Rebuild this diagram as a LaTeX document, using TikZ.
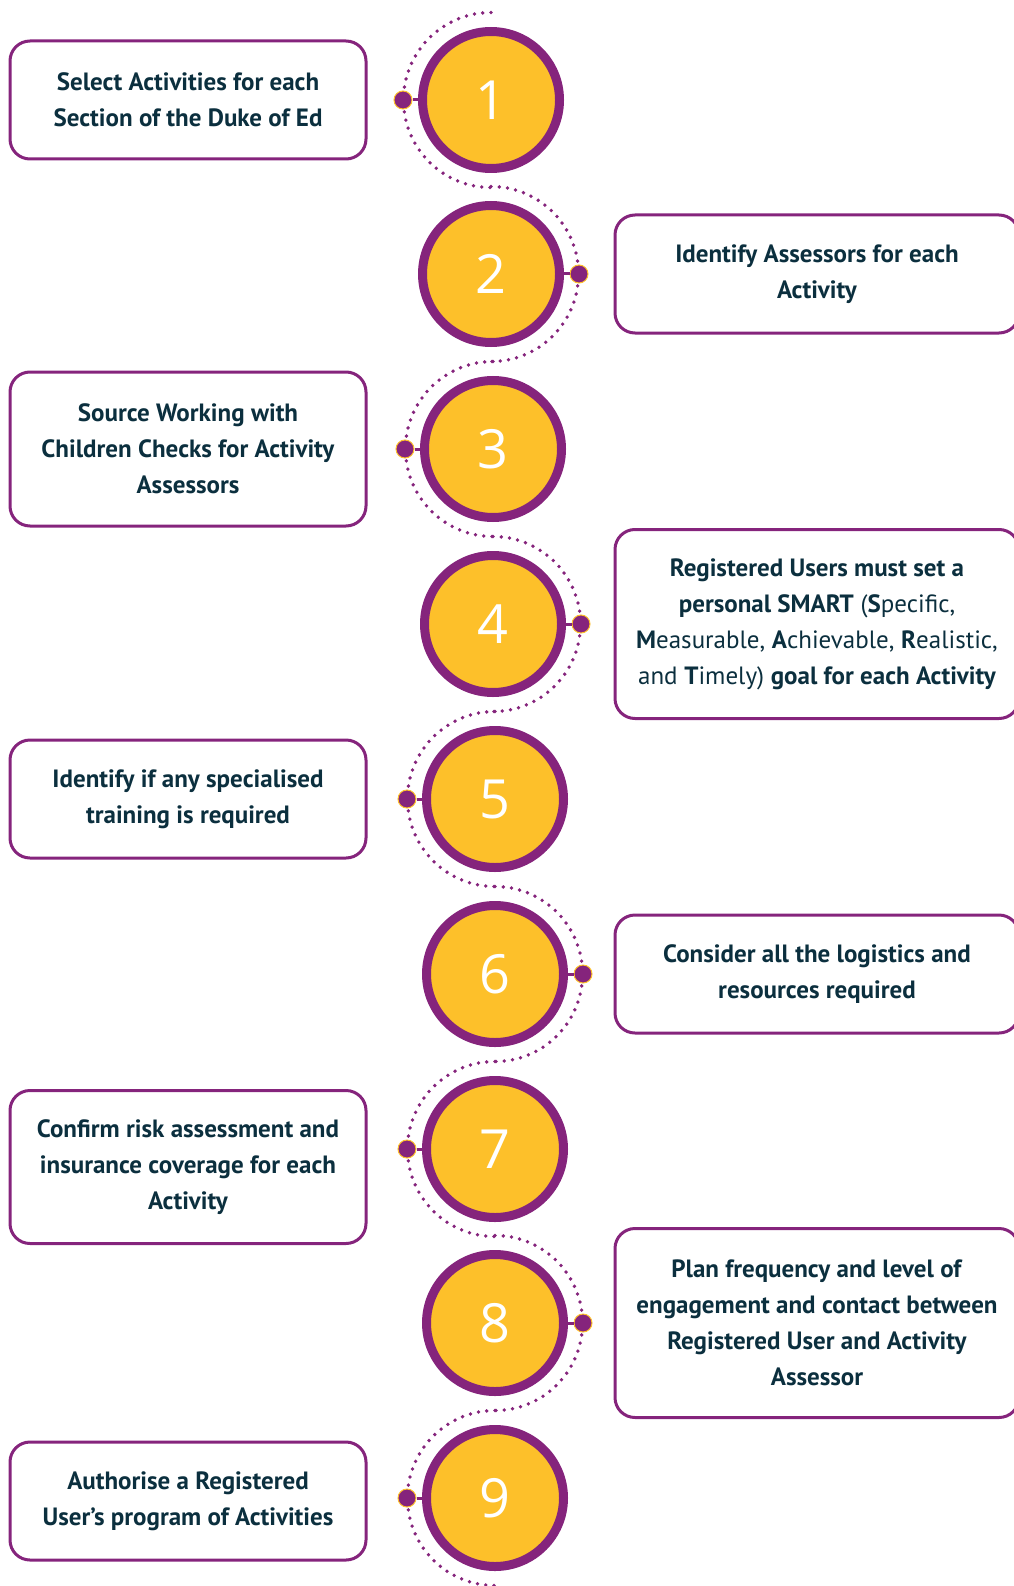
\documentclass[tikz,border=0pt]{standalone}
\usepackage{fontspec}
\setmainfont{PT Sans}
\newfontfamily\numfont{Open Sans}
\definecolor{dukepurple}{HTML}{85247C}
\definecolor{dukeyellow}{HTML}{FDC02A}
\definecolor{dukeink}{HTML}{0B2F3E}

\begin{document}
\begin{tikzpicture}[x=1pt, y=1pt,
    numcircle/.style={circle, draw=dukepurple, line width=9pt, fill=dukeyellow,
        minimum size=137pt, inner sep=0pt, text=white, font=\numfont\fontsize{54}{54}\selectfont},
    knob/.style={circle, draw=dukeyellow, line width=1pt, fill=dukepurple,
        minimum size=18pt, inner sep=0pt},
    stub/.style={draw=dukepurple, line width=3pt},
    dotarc/.style={draw=dukepurple, line width=3.8pt, line cap=round,
        dash pattern=on 0pt off 8.3pt},
    stepbox/.style={draw=dukepurple, line width=3pt, rounded corners=20pt,
        align=center, text=dukeink, inner sep=0pt,
        font=\fontsize{25}{36}\selectfont},
    leftbox/.style={stepbox, minimum width=356pt},
    rightbox/.style={stepbox, minimum width=404pt}]
    \useasboundingbox (0,0) rectangle (1013,-1586);

    % numbered circles down the middle
    \node[numcircle] (c1) at (491,-100) {1};
    \node[numcircle] (c2) at (491,-274) {2};
    \node[numcircle] (c3) at (493,-449) {3};
    \node[numcircle] (c4) at (493,-624) {4};
    \node[numcircle] (c5) at (495,-799) {5};
    \node[numcircle] (c6) at (495,-974) {6};
    \node[numcircle] (c7) at (495,-1149) {7};
    \node[numcircle] (c8) at (495,-1323) {8};
    \node[numcircle] (c9) at (495,-1498) {9};

    % dotted half rings, left for odd steps, right for even steps
    \draw[dotarc] (c1.center) ++(0,87.5) arc (90:270:87.5);
    \draw[dotarc] (c2.center) ++(0,87.5) arc (90:-90:87.5);
    \draw[dotarc] (c3.center) ++(0,87.5) arc (90:270:87.5);
    \draw[dotarc] (c4.center) ++(0,87.5) arc (90:-90:87.5);
    \draw[dotarc] (c5.center) ++(0,87.5) arc (90:270:87.5);
    \draw[dotarc] (c6.center) ++(0,87.5) arc (90:-90:87.5);
    \draw[dotarc] (c7.center) ++(0,87.5) arc (90:270:87.5);
    \draw[dotarc] (c8.center) ++(0,87.5) arc (90:-90:87.5);
    \draw[dotarc] (c9.center) ++(0,87.5) arc (90:270:87.5);

    % knobs on the rings
    \node[knob] (d1) at ([xshift=-88pt]c1.center) {};
    \node[knob] (d2) at ([xshift=88pt]c2.center) {};
    \node[knob] (d3) at ([xshift=-88pt]c3.center) {};
    \node[knob] (d4) at ([xshift=88pt]c4.center) {};
    \node[knob] (d5) at ([xshift=-88pt]c5.center) {};
    \node[knob] (d6) at ([xshift=88pt]c6.center) {};
    \node[knob] (d7) at ([xshift=-88pt]c7.center) {};
    \node[knob] (d8) at ([xshift=88pt]c8.center) {};
    \node[knob] (d9) at ([xshift=-88pt]c9.center) {};
    \draw[stub] (d1) -- (c1);
    \draw[stub] (d2) -- (c2);
    \draw[stub] (d3) -- (c3);
    \draw[stub] (d4) -- (c4);
    \draw[stub] (d5) -- (c5);
    \draw[stub] (d6) -- (c6);
    \draw[stub] (d7) -- (c7);
    \draw[stub] (d8) -- (c8);
    \draw[stub] (d9) -- (c9);

    % step boxes
    \node[leftbox, minimum height=118pt] (b1) at (188,-100)
        {\textbf{Select Activities for each}\\\textbf{Section of the Duke of Ed}};
    \node[rightbox, minimum height=118pt] (b2) at (817,-274)
        {\textbf{Identify Assessors for each}\\\textbf{Activity}};
    \node[leftbox, minimum height=154pt] (b3) at (188,-449)
        {\textbf{Source Working with}\\\textbf{Children Checks for Activity}\\\textbf{Assessors}};
    \node[rightbox, minimum height=189pt] (b4) at (817,-624)
        {\textbf{Registered Users must set a}\\
         \textbf{personal SMART} (\textbf{S}pecific,\\
         \textbf{M}easurable, \textbf{A}chievable, \textbf{R}ealistic,\\
         and \textbf{T}imely) \textbf{goal for each Activity}};
    \node[leftbox, minimum height=118pt] (b5) at (188,-799)
        {\textbf{Identify if any specialised}\\\textbf{training is required}};
    \node[rightbox, minimum height=118pt] (b6) at (817,-974)
        {\textbf{Consider all the logistics and}\\\textbf{resources required}};
    \node[leftbox, minimum height=153pt] (b7) at (188,-1167)
        {\textbf{Confirm risk assessment and}\\\textbf{insurance coverage for each}\\\textbf{Activity}};
    \node[rightbox, minimum height=189pt] (b8) at (817,-1323)
        {\textbf{Plan frequency and level of}\\\textbf{engagement and contact between}\\
         \textbf{Registered User and Activity}\\\textbf{Assessor}};
    \node[leftbox, minimum height=118pt] (b9) at (188,-1501)
        {\textbf{Authorise a Registered}\\\textbf{User’s program of Activities}};
\end{tikzpicture}
\end{document}
